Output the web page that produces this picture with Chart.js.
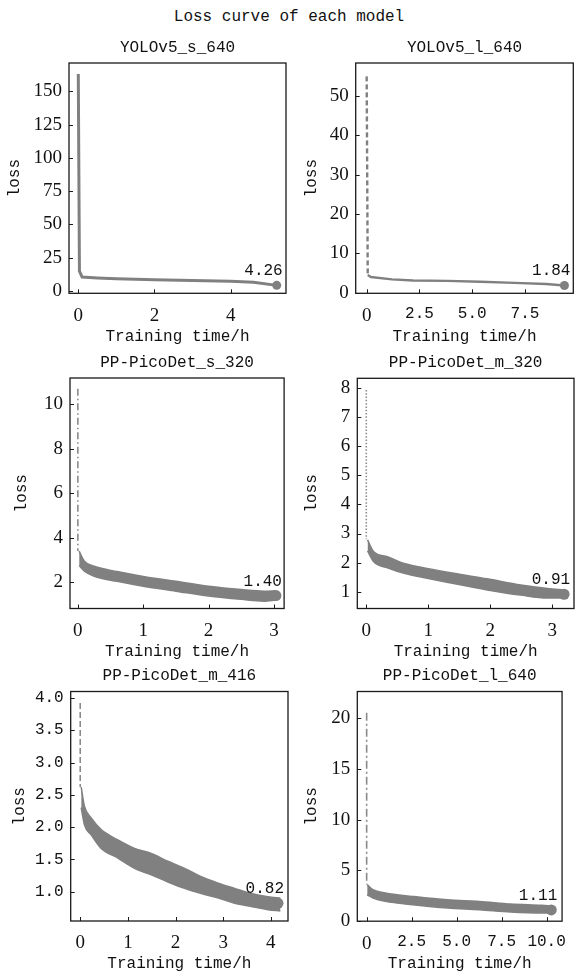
<!DOCTYPE html>
<html>
<head>
<meta charset="utf-8">
<script src="https://cdn.jsdelivr.net/npm/chart.js@4/dist/chart.umd.min.js"></script>
<style>
  body { margin: 0; background: #fff; width: 578px; height: 976px; position: relative; overflow: hidden; }
  #suptitle { position: absolute; left: 0; top: 7px; width: 578px; text-align: center;
    font: 16px/20px "Liberation Mono", monospace; color: #111; }
  canvas { position: absolute; }
</style>
</head>
<body>
<div id="suptitle">Loss curve of each model</div>
<script>
// panel titles
const panelTitles = ['YOLOv5_s_640', 'YOLOv5_l_640', 'PP-PicoDet_s_320', 'PP-PicoDet_m_320', 'PP-PicoDet_m_416', 'PP-PicoDet_l_640'];

// YOLOv5_s_640 (thin line)
const p1Time = [0, 0.03, 0.1, 0.5, 1, 2, 3, 4, 4.6, 5.21];
const p1Loss = [163, 15, 10.5, 9.8, 9.2, 8.5, 7.9, 7.3, 6.6, 4.26];
// YOLOv5_l_640 (thin line)
const p2Time = [0, 0.05, 0.2, 1.2, 2.2, 3.8, 5.4, 7.0, 8.5, 9.37];
const p2Loss = [55, 4.5, 4.0, 3.4, 3.1, 3.0, 2.8, 2.5, 2.2, 1.84];

// noisy panels: first drop at t=0, then upper / lower edge of the noisy band
const p3Spike = [10.7, 3.4];
const p3Time  = [0.02, 0.1, 0.25, 0.6, 1.0, 1.5, 2.0, 2.5, 2.85, 3.03];
const p3Upper = [3.4, 2.95, 2.72, 2.48, 2.26, 2.04, 1.82, 1.67, 1.6, 1.62];
const p3Lower = [2.75, 2.5, 2.27, 2.04, 1.82, 1.6, 1.38, 1.23, 1.15, 1.2];

const p4Spike = [7.94, 2.8];
const p4Time  = [0.02, 0.12, 0.34, 0.61, 0.98, 1.41, 1.95, 2.49, 2.92, 3.19];
const p4Upper = [2.78, 2.37, 2.2, 1.97, 1.8, 1.63, 1.44, 1.23, 1.11, 1.06];
const p4Lower = [2.4, 2.03, 1.82, 1.63, 1.46, 1.28, 1.06, 0.88, 0.78, 0.78];

const p5Spike = [3.92, 2.62];
const p5Time  = [0.02, 0.09, 0.23, 0.44, 0.79, 1.14, 1.49, 1.84, 2.19, 2.54, 2.9, 3.24, 3.59, 3.94, 4.2];
const p5Upper = [2.62, 2.32, 2.14, 1.96, 1.8, 1.67, 1.59, 1.47, 1.36, 1.23, 1.13, 1.05, 0.97, 0.92, 0.9];
const p5Lower = [2.3, 2.03, 1.88, 1.67, 1.52, 1.36, 1.26, 1.15, 1.05, 0.97, 0.9, 0.82, 0.77, 0.72, 0.7];

const p6Spike = [20.5, 3.6];
const p6Time  = [0.03, 0.35, 1.04, 2.56, 4.5, 6.26, 8.0, 9.74, 10.26];
const p6Upper = [3.6, 3.1, 2.77, 2.44, 2.1, 1.95, 1.69, 1.56, 1.5];
const p6Lower = [2.6, 2.28, 1.95, 1.62, 1.3, 1.13, 0.9, 0.8, 0.8];

// final loss of each model (marker + label)
const finalTime = [5.21, 9.37, 3.03, 3.19, 4.15, 10.26];
const finalLoss = [4.26, 1.84, 1.40, 0.91, 0.82, 1.11];

// tick values and labels
const p1XTicks = [0, 2, 4];            const p1XLabels = ['0', '2', '4'];
const p1YTicks = [0, 25, 50, 75, 100, 125, 150];
const p1YLabels = ['0', '25', '50', '75', '100', '125', '150'];
const p2XTicks = [0, 2.5, 5, 7.5];     const p2XLabels = ['0', '2.5', '5.0', '7.5'];
const p2YTicks = [0, 10, 20, 30, 40, 50];
const p2YLabels = ['0', '10', '20', '30', '40', '50'];
const p3XTicks = [0, 1, 2, 3];         const p3XLabels = ['0', '1', '2', '3'];
const p3YTicks = [2, 4, 6, 8, 10];     const p3YLabels = ['2', '4', '6', '8', '10'];
const p4XTicks = [0, 1, 2, 3];         const p4XLabels = ['0', '1', '2', '3'];
const p4YTicks = [1, 2, 3, 4, 5, 6, 7, 8];
const p4YLabels = ['1', '2', '3', '4', '5', '6', '7', '8'];
const p5XTicks = [0, 1, 2, 3, 4];      const p5XLabels = ['0', '1', '2', '3', '4'];
const p5YTicks = [1, 1.5, 2, 2.5, 3, 3.5, 4];
const p5YLabels = ['1.0', '1.5', '2.0', '2.5', '3.0', '3.5', '4.0'];
const p6XTicks = [0, 2.5, 5, 7.5, 10]; const p6XLabels = ['0', '2.5', '5.0', '7.5', '10.0'];
const p6YTicks = [0, 5, 10, 15, 20];   const p6YLabels = ['0', '5', '10', '15', '20'];

const GRAY = '#808080';
const SPIKE = '#8a8a8a';
const MONO = '"Liberation Mono", "DejaVu Sans Mono", monospace';
const SERIF = '"Liberation Serif", "DejaVu Serif", serif';

function pts(xs, ys) { return xs.map((x, i) => ({x: x, y: ys[i]})); }

// frame, inward ticks and final value label
const framePlugin = {
    id: 'frame',
    afterDraw(chart, args, opts) {
        const ctx = chart.ctx, a = chart.chartArea;
        const xs = chart.scales.x, ys = chart.scales.y;
        ctx.save();
        ctx.strokeStyle = '#1a1a1a';
        ctx.lineWidth = 1.3;
        ctx.strokeRect(a.left, a.top, a.right - a.left, a.bottom - a.top);
        ctx.lineWidth = 1;
        ctx.beginPath();
        xs.ticks.forEach(t => {
            const px = Math.round(xs.getPixelForValue(t.value)) + 0.5;
            ctx.moveTo(px, a.bottom); ctx.lineTo(px, a.bottom - 4);
        });
        ys.ticks.forEach(t => {
            const py = Math.round(ys.getPixelForValue(t.value)) + 0.5;
            ctx.moveTo(a.left, py); ctx.lineTo(a.left + 4, py);
        });
        ctx.stroke();
        // final value text
        const px = xs.getPixelForValue(opts.x), py = ys.getPixelForValue(opts.y);
        ctx.font = '16px ' + MONO;
        ctx.fillStyle = '#111';
        ctx.textAlign = 'right';
        ctx.textBaseline = 'alphabetic';
        ctx.fillText(opts.y.toFixed(2), px + 6, py - 10);
        ctx.restore();
    }
};

const panels = [
    {box: {l: 69, r: 286, t: 63, b: 293.3}, col: 0, xMin: -0.244, xMax: 5.454, yMin: -1.7, yMax: 171.3,
     xT: p1XTicks, xL: p1XLabels, yT: p1YTicks, yL: p1YLabels, yTitleX: 15, dash: [],
     line: pts(p1Time, p1Loss), lineW: 3},
    {box: {l: 355.7, r: 573.3, t: 63, b: 293.3}, col: 1, xMin: -0.52, xMax: 9.79, yMin: -0.15, yMax: 58.4,
     xT: p2XTicks, xL: p2XLabels, yT: p2YTicks, yL: p2YLabels, yTitleX: 311.7, dash: [5, 3],
     line: pts(p2Time, p2Loss), lineW: 2.4},
    {box: {l: 70, r: 286.5, t: 378, b: 608.5}, col: 0, xMin: -0.12, xMax: 3.155, yMin: 0.82, yMax: 11.18,
     xT: p3XTicks, xL: p3XLabels, yT: p3YTicks, yL: p3YLabels, yTitleX: 21.7, dash: [7, 3, 1.5, 3],
     spike: p3Spike, time: p3Time, upper: p3Upper, lower: p3Lower},
    {box: {l: 357.3, r: 574, t: 378.3, b: 608.5}, col: 1, xMin: -0.145, xMax: 3.35, yMin: 0.42, yMax: 8.34,
     xT: p4XTicks, xL: p4XLabels, yT: p4YTicks, yL: p4YLabels, yTitleX: 311.7, dash: [1.5, 1.8],
     spike: p4Spike, time: p4Time, upper: p4Upper, lower: p4Lower},
    {box: {l: 70.7, r: 288, t: 691.5, b: 921}, col: 0, xMin: -0.2, xMax: 4.36, yMin: 0.545, yMax: 4.10,
     xT: p5XTicks, xL: p5XLabels, yT: p5YTicks, yL: p5YLabels, yTitleX: 20, dash: [6, 3],
     spike: p5Spike, time: p5Time, upper: p5Upper, lower: p5Lower},
    {box: {l: 357.3, r: 575.5, t: 691.5, b: 921.2}, col: 1, xMin: -0.52, xMax: 10.86, yMin: 0, yMax: 22.6,
     xT: p6XTicks, xL: p6XLabels, yT: p6YTicks, yL: p6YLabels, yTitleX: 311.7, dash: [8, 3, 2, 3],
     spike: p6Spike, time: p6Time, upper: p6Upper, lower: p6Lower}
];

panels.forEach((p, i) => {
    const b = p.box;
    const cLeft = p.col === 0 ? 0 : 287;
    const cRight = p.col === 0 ? 290 : 578;
    const cTop = Math.floor(b.t - 31);
    const cBottom = Math.ceil(b.b + 56);
    const titleH = b.t - cTop;
    const xH = cBottom - b.b;

    const canvas = document.createElement('canvas');
    canvas.width = cRight - cLeft;
    canvas.height = cBottom - cTop;
    canvas.style.left = cLeft + 'px';
    canvas.style.top = cTop + 'px';
    document.body.appendChild(canvas);

    let datasets = [];
    if (p.line) {
        datasets.push({
            data: p.line, borderColor: GRAY, borderWidth: p.lineW, pointRadius: 0,
            segment: {borderDash: c => (c.p0DataIndex === 0 ? p.dash : [])}
        });
    } else {
        datasets.push({
            data: [{x: 0, y: p.spike[0]}, {x: 0, y: p.spike[1]}],
            borderColor: SPIKE, borderWidth: 1.6, borderDash: p.dash, pointRadius: 0
        });
        datasets.push({
            data: pts(p.time, p.upper), borderColor: GRAY, borderWidth: 1.5, pointRadius: 0,
            cubicInterpolationMode: 'monotone', fill: false
        });
        datasets.push({
            data: pts(p.time, p.lower), borderColor: GRAY, borderWidth: 1.5, pointRadius: 0,
            cubicInterpolationMode: 'monotone', fill: '-1', backgroundColor: GRAY
        });
    }
    datasets.push({
        data: [{x: finalTime[i], y: finalLoss[i]}], showLine: false,
        pointRadius: p.line ? 4.5 : 5.5, pointBackgroundColor: GRAY, pointBorderWidth: 0
    });

    const tickFont = (labels, c) => labels[c.index] && labels[c.index].includes('.')
        ? {family: MONO, size: 16} : {family: SERIF, size: 19};

    new Chart(canvas.getContext('2d'), {
        type: 'line',
        data: {datasets: datasets},
        plugins: [framePlugin],
        options: {
            responsive: false,
            animation: false,
            devicePixelRatio: 1,
            layout: {autoPadding: false, padding: {left: 0, top: 0, bottom: 0, right: cRight - b.r}},
            plugins: {
                legend: {display: false},
                tooltip: {enabled: false},
                title: {
                    display: true, text: panelTitles[i], fullSize: false, color: '#111',
                    font: {family: MONO, size: 16, weight: 'normal', lineHeight: 1.2},
                    padding: {top: titleH - 25.1, bottom: 5.9}
                },
                frame: {x: finalTime[i], y: finalLoss[i]}
            },
            scales: {
                x: {
                    type: 'linear', min: p.xMin, max: p.xMax,
                    grid: {display: false, drawTicks: false}, border: {display: false},
                    afterBuildTicks: s => { s.ticks = p.xT.map(v => ({value: v})); },
                    afterFit: s => { s.height = xH; },
                    ticks: {
                        padding: 11, color: '#111', maxRotation: 0, autoSkip: false,
                        font: c => tickFont(p.xL, c),
                        callback: (v, k) => p.xL[k]
                    },
                    title: {
                        display: true, text: 'Training time/h', color: '#111',
                        font: {family: MONO, size: 16, lineHeight: 1.2},
                        padding: {top: 0, bottom: xH - 52.6}
                    }
                },
                y: {
                    type: 'linear', min: p.yMin, max: p.yMax,
                    grid: {display: false, drawTicks: false}, border: {display: false},
                    afterBuildTicks: s => { s.ticks = p.yT.map(v => ({value: v})); },
                    afterFit: s => { s.width = b.l - cLeft; },
                    ticks: {
                        padding: 7, color: '#111', autoSkip: false,
                        font: c => tickFont(p.yL, c),
                        callback: (v, k) => p.yL[k]
                    },
                    title: {
                        display: true, text: 'loss', color: '#111',
                        font: {family: MONO, size: 16, lineHeight: 1.2},
                        padding: {top: p.yTitleX - cLeft - 9.6, bottom: 0}
                    }
                }
            }
        }
    });
});
</script>
</body>
</html>
